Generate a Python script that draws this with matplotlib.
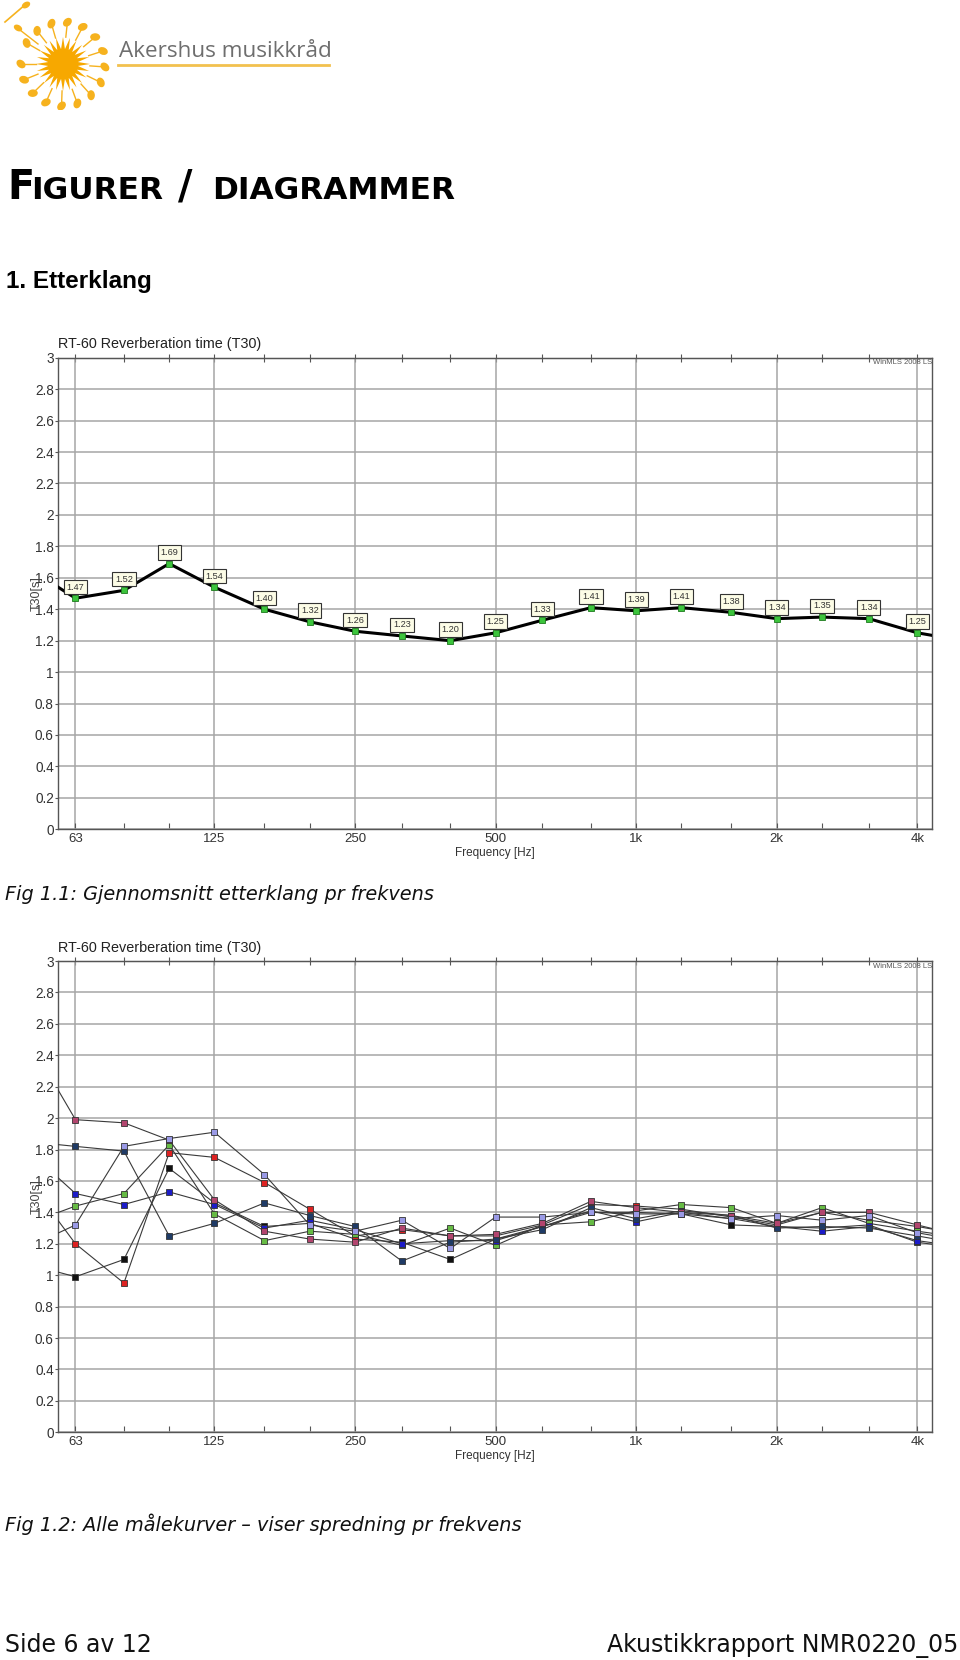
import matplotlib
matplotlib.use('Agg')
import matplotlib.pyplot as plt
import matplotlib.ticker as mticker
from matplotlib.patches import Ellipse, Polygon
import numpy as np

# ---------------- data ----------------
bands = [50, 63, 80, 100, 125, 160, 200, 250, 315, 400, 500, 630, 800,
         1000, 1250, 1600, 2000, 2500, 3150, 4000, 5000]
octave_ticks = [63, 125, 250, 500, 1000, 2000, 4000]
octave_labels = ['63', '125', '250', '500', '1k', '2k', '4k']
minor_bands = [80, 100, 160, 200, 315, 400, 630, 800, 1250, 1600, 2500, 3150]
y_ticks = [0, 0.2, 0.4, 0.6, 0.8, 1, 1.2, 1.4, 1.6, 1.8, 2, 2.2, 2.4, 2.6, 2.8, 3]
y_tick_labels = ['0', '0.2', '0.4', '0.6', '0.8', '1', '1.2', '1.4', '1.6', '1.8',
                 '2', '2.2', '2.4', '2.6', '2.8', '3']

# average T30 (50 Hz and 5 kHz lie just outside the visible frame)
avg_t30 = [1.66, 1.47, 1.52, 1.69, 1.54, 1.40, 1.32, 1.26, 1.23, 1.20, 1.25,
           1.33, 1.41, 1.39, 1.41, 1.38, 1.34, 1.35, 1.34, 1.25, 1.20]

# individual measurement curves
curve_black = [1.07, 0.99, 1.10, 1.68, 1.46, 1.31, 1.33, 1.23, 1.21, 1.10, 1.23,
               1.31, 1.40, 1.40, 1.39, 1.32, 1.31, 1.30, 1.32, 1.21, 1.17]
curve_red = [1.60, 1.20, 0.95, 1.78, 1.75, 1.59, 1.42, 1.25, 1.29, 1.25, 1.25,
             1.32, 1.45, 1.44, 1.42, 1.37, 1.32, 1.40, 1.35, 1.31, 1.26]
curve_green = [1.33, 1.44, 1.52, 1.83, 1.39, 1.22, 1.28, 1.26, 1.19, 1.30, 1.19,
               1.32, 1.34, 1.41, 1.45, 1.43, 1.33, 1.43, 1.33, 1.28, 1.24]
curve_blue = [1.79, 1.52, 1.45, 1.53, 1.45, 1.30, 1.35, 1.29, 1.20, 1.22, 1.22,
              1.31, 1.41, 1.34, 1.40, 1.36, 1.31, 1.28, 1.31, 1.22, 1.18]
curve_navy = [1.85, 1.82, 1.79, 1.25, 1.33, 1.46, 1.38, 1.31, 1.09, 1.21, 1.23,
              1.29, 1.43, 1.36, 1.41, 1.38, 1.30, 1.31, 1.30, 1.25, 1.20]
curve_mauve = [2.50, 1.99, 1.97, 1.86, 1.48, 1.28, 1.23, 1.21, 1.30, 1.25, 1.26,
               1.33, 1.47, 1.43, 1.40, 1.38, 1.33, 1.40, 1.40, 1.32, 1.25]
curve_lavender = [1.18, 1.32, 1.82, 1.87, 1.91, 1.64, 1.32, 1.28, 1.35, 1.17, 1.37,
                  1.37, 1.40, 1.39, 1.39, 1.36, 1.38, 1.35, 1.38, 1.27, 1.22]

curves = [curve_black, curve_red, curve_green, curve_blue, curve_navy,
          curve_mauve, curve_lavender]
curve_colors = ['#111111', '#dd2222', '#66bb44', '#1c1cc8', '#1f3b66',
                '#b2456e', '#9a9ae6']

# ---------------- page ----------------
W, H = 960, 1660
fig = plt.figure(figsize=(W / 100, H / 100), dpi=100)
fig.patch.set_facecolor('white')


def fy(y):
    return 1 - y / H


# logo
lax = fig.add_axes([0, fy(110), 340 / W, 110 / H])
lax.set_xlim(0, 340)
lax.set_ylim(110, 0)
lax.axis('off')
sun = '#f6b21e'
cx, cy = 63, 64
ang = np.linspace(0, 2 * np.pi, 49)[:-1]
rad = np.where(np.arange(48) % 2 == 0, 27, 15)
lax.add_patch(Polygon(np.c_[cx + rad * np.cos(ang), cy + rad * np.sin(ang)],
                      closed=True, fc='#f7a800', ec='none'))
lax.add_patch(Ellipse((cx, cy), 30, 30, fc='#f7a800', ec='none'))
for a in np.deg2rad(np.arange(-150, 200, 22)):
    x0, y0 = cx + 27 * np.cos(a), cy + 27 * np.sin(a)
    x1, y1 = cx + 38 * np.cos(a), cy + 38 * np.sin(a)
    lax.plot([x0, x1], [y0, y1], color=sun, lw=1.0)
    lax.add_patch(Ellipse((cx + 42 * np.cos(a), cy + 42 * np.sin(a)), 10, 7.5,
                          angle=np.rad2deg(a) + 40, fc=sun, ec='none'))
lax.plot([5, 26], [22, 4], color=sun, lw=1.2)
lax.add_patch(Ellipse((26, 5), 9, 6, angle=-30, fc=sun, ec='none'))
lax.plot([20, 38], [30, 44], color=sun, lw=1.0)
lax.add_patch(Ellipse((18, 28), 9, 6, angle=30, fc=sun, ec='none'))
lax.text(119, 57, 'Akershus musikkråd', fontsize=16.2, family='Open Sans',
         color='#6e6e6e', va='baseline', ha='left')
lax.plot([118, 329], [65.5, 65.5], color='#f2c14e', lw=2)

# headings
fig.text(7 / W, fy(199), 'F', fontsize=28.5, fontweight='bold',
         family='DejaVu Sans', va='baseline')
fig.text(31 / W, fy(199), 'IGURER', fontsize=22.5, fontweight='bold',
         family='DejaVu Sans', va='baseline')
fig.text(178 / W, fy(199), '/', fontsize=28.5, fontweight='bold',
         family='DejaVu Sans', va='baseline')
fig.text(212 / W, fy(199), 'DIAGRAMMER', fontsize=22.5, fontweight='bold',
         family='DejaVu Sans', va='baseline')
fig.text(6 / W, fy(288), '1. Etterklang', fontsize=17.5, fontweight='bold',
         family='Liberation Sans', va='baseline')


def setup_axes(top, bottom, title_base):
    ax = fig.add_axes([58 / W, fy(bottom), (932.3 - 58) / W, (bottom - top) / H])
    ax.set_xscale('log')
    ax.set_xlim(57.8, 4307)
    ax.set_ylim(0, 3)
    ax.set_xticks(octave_ticks, octave_labels)
    ax.xaxis.set_minor_locator(mticker.FixedLocator(minor_bands))
    ax.xaxis.set_minor_formatter(mticker.NullFormatter())
    ax.set_yticks(y_ticks, y_tick_labels)
    ax.grid(axis='x', which='major', color='#a6a6a6', lw=1.1)
    ax.grid(axis='y', which='major', color='#a6a6a6', lw=1.1)
    ax.set_axisbelow(True)
    for s in ax.spines.values():
        s.set_color('#555555')
        s.set_linewidth(1.0)
    ax.tick_params(axis='x', which='both', direction='in', length=4, width=0.8,
                   color='#555555', labelsize=9.5, labelcolor='#333333', pad=3,
                   top=False)
    ax.tick_params(axis='y', direction='out', length=2, width=0.8,
                   color='#555555', labelsize=9.8, labelcolor='#333333', pad=1)
    for lab in ax.get_xticklabels() + ax.get_yticklabels():
        lab.set_family('Liberation Sans')
    sec = ax.secondary_xaxis('top')
    sec.set_xticks(bands[1:-1])
    sec.xaxis.set_minor_locator(mticker.NullLocator())
    sec.tick_params(direction='inout', length=6, width=0.8, color='#555555',
                    labeltop=False)
    sec.spines['top'].set_color('#555555')
    ax.set_ylabel('T30[s]', fontsize=9, color='#444444', family='Liberation Sans')
    ax.yaxis.set_label_coords(-0.017, 0.5)
    fig.text(58 / W, fy(title_base), 'RT-60 Reverberation time (T30)',
             fontsize=10.4, family='Liberation Sans', color='#222222',
             va='baseline')
    fig.text(495 / W, fy(bottom + 24), 'Frequency [Hz]', fontsize=8.5,
             family='Liberation Sans', color='#333333', ha='center',
             va='center')
    ax.text(1.0, 1 - 5 / (bottom - top), 'WinMLS 2008 LS', transform=ax.transAxes,
            fontsize=5.5, color='#555555', ha='right', va='center',
            family='Liberation Sans')
    return ax


# chart 1
ax1 = setup_axes(357.7, 829.3, 348.3)
ax1.plot(bands, avg_t30, color='black', lw=2.2, zorder=3)
ax1.plot(bands, avg_t30, ls='none', marker='s', ms=4.6, mfc='#3cc43c',
         mec='#1e7a1e', mew=0.6, zorder=4)
for f, v in zip(bands, avg_t30):
    if 63 <= f <= 4000:
        ax1.annotate(f'{v:.2f}', (f, v), xytext=(0, 8), textcoords='offset points',
                     ha='center', va='center', fontsize=6.6, color='#333333',
                     family='Liberation Sans', zorder=5,
                     bbox=dict(boxstyle='square,pad=0.3', fc='#fcfce6',
                               ec='#333333', lw=0.8))

# chart 2
ax2 = setup_axes(961, 1432.3, 951.7)
for vals, col in zip(curves, curve_colors):
    ax2.plot(bands, vals, color='#3a3a3a', lw=0.8, marker='s', ms=4.4,
             mfc=col, mec='#333333', mew=0.6, zorder=3)

# captions and footer
fig.text(5 / W, fy(900), 'Fig 1.1: Gjennomsnitt etterklang pr frekvens',
         fontsize=13.9, style='italic', family='DejaVu Sans', va='baseline',
         color='#111111')
fig.text(5 / W, fy(1531), 'Fig 1.2: Alle målekurver – viser spredning pr frekvens',
         fontsize=13.9, style='italic', family='DejaVu Sans', va='baseline',
         color='#111111')
fig.text(5 / W, fy(1652), 'Side 6 av 12', fontsize=17.0, family='DejaVu Sans',
         va='baseline', color='#111111')
fig.text(958 / W, fy(1652), 'Akustikkrapport NMR0220_05', fontsize=17.0,
         family='DejaVu Sans', va='baseline', ha='right', color='#111111')

fig.savefig('out.png', dpi=100, facecolor='white')
